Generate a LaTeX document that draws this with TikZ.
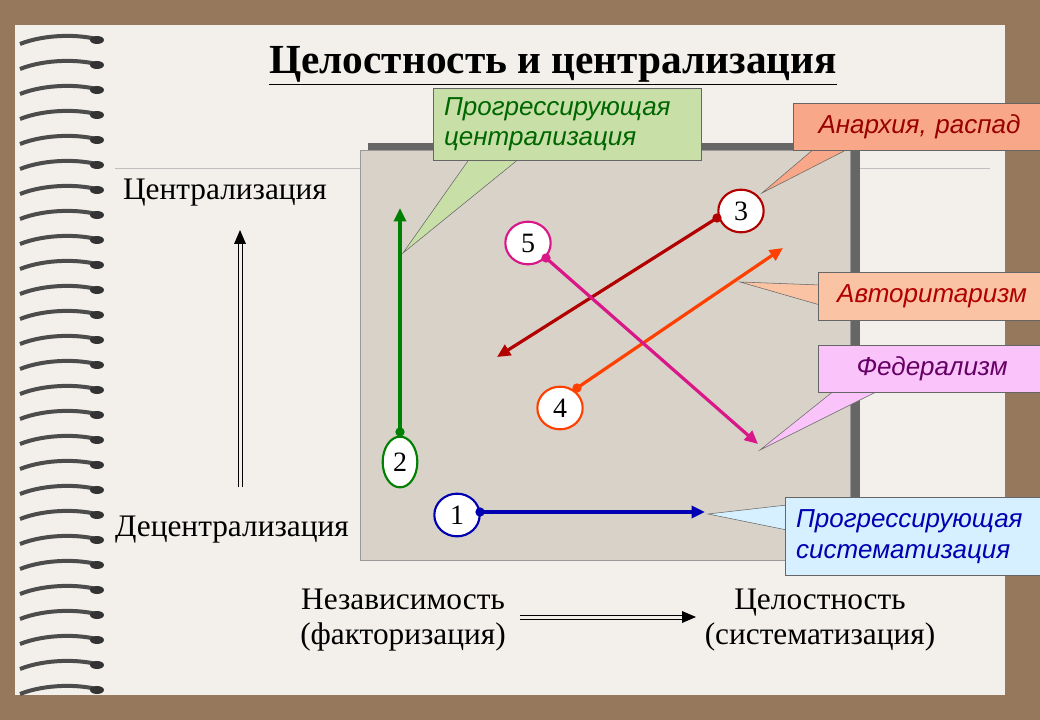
\documentclass[tikz,border=0pt]{standalone}
\usepackage{fontspec}
\setmainfont{Liberation Serif}
\newfontfamily\sansf{Liberation Sans}
\usetikzlibrary{arrows.meta,shapes.geometric}
\begin{document}
\begin{tikzpicture}[x=0.75pt,y=-0.75pt,
  num/.style={ellipse,draw,line width=1.6pt,fill=white,minimum width=34pt,minimum height=32pt,inner sep=0pt,font=\fontsize{21}{22}\selectfont},
  lbl/.style={font=\fontsize{23.5}{26}\selectfont,align=center},
  call/.style={draw=black!60,line width=0.6pt,font=\sansf\itshape\fontsize{19.5}{23}\selectfont,inner xsep=8pt,inner ysep=4pt},
  dotc/.style={circle,fill,inner sep=0pt,minimum size=7pt},
  arr/.style={line width=2.4pt,-{Triangle[length=10pt,width=9pt]}},
  dbl/.style={line width=0.6pt},
  dblhead/.style={fill=black}]
\useasboundingbox (0,0) rectangle (1040,720);
\fill[brown!60!black!75!white] (0,0) rectangle (1040,720);
\fill[color={rgb,255:red,243;green,240;blue,235}] (15,25) rectangle (1005,695);
% spiral rings
\foreach \y in {40,65,...,690}{
  \draw[line width=3pt,color=black!70] (20,\y+4) .. controls (45,\y-6) and (80,\y-6) .. (100,\y);
  \fill[black!80] (97,\y) ellipse (7 and 4);
}
\draw[black!25,line width=0.6pt] (115,168) -- (990,168);
% title
\node[font=\bfseries\fontsize{31}{34}\selectfont] (title) at (553,66) {\underline{Целостность и централизация}};
% field
\fill[black!60] (368,143) rectangle (860,553);
\fill[color={rgb,255:red,216;green,210;blue,200}] (360,150) rectangle (850,560);
\draw[black!40] (360,150) rectangle (850,560);
% axes
\node[lbl] (cen) at (225,193) {Централизация};
\node[lbl] (dec) at (232,530) {Децентрализация};
\draw[dbl] (238,487) -- (238,242) (242,487) -- (242,242);
\fill (234,244) -- (240,230) -- (246,244) -- cycle;
\node[lbl] (ind) at (403,620) {Независимость\\(факторизация)};
\node[lbl] (int) at (820,620) {Целостность\\(систематизация)};
\draw[dbl] (520,615) -- (684,615) (520,619) -- (684,619);
\fill (682,611) -- (696,617) -- (682,623) -- cycle;
% callout wedges
\fill[color={rgb,255:red,200;green,224;blue,168},draw=black!60] (470,158) -- (403,253) -- (520,158) -- cycle;
\fill[color={rgb,255:red,248;green,168;blue,136},draw=black!60] (815,148) -- (762,193) -- (850,148) -- cycle;
\fill[color={rgb,255:red,250;green,196;blue,164},draw=black!60] (820,285) -- (740,282) -- (820,305) -- cycle;
\fill[color={rgb,255:red,250;green,196;blue,250},draw=black!60] (835,390) -- (760,450) -- (880,390) -- cycle;
\fill[color={rgb,255:red,214;green,240;blue,255},draw=black!60] (787,505) -- (708,514) -- (787,530) -- cycle;
% callout boxes
\node[call,fill={rgb,255:red,200;green,224;blue,168},anchor=north west,text width=247*0.75pt,minimum height=72*0.75pt,text=green!40!black,align=left] (cg) at (433,88) {Прогрессирующая\\централизация};
\node[call,fill={rgb,255:red,248;green,168;blue,136},anchor=north west,text width=231*0.75pt,minimum height=47*0.75pt,text=red!60!black,align=center] (ca) at (793,103) {Анархия, распад};
\node[call,fill={rgb,255:red,250;green,196;blue,164},anchor=north west,text width=206*0.75pt,minimum height=48*0.75pt,text=red!70!black,align=center] (cb) at (818,272) {Авторитаризм};
\node[call,fill={rgb,255:red,250;green,196;blue,250},anchor=north west,text width=206*0.75pt,minimum height=47*0.75pt,text=violet!80!black,align=center] (cf) at (818,345) {Федерализм};
\node[call,fill={rgb,255:red,214;green,240;blue,255},anchor=north west,text width=239*0.75pt,minimum height=78*0.75pt,text=blue!70!black,align=left] (cs) at (785,497) {Прогрессирующая\\систематизация};
% arrows
\coordinate (e1) at (705,512);
\coordinate (e2) at (400,208);
\coordinate (e3) at (497,357);
\coordinate (e4) at (783,248);
\coordinate (e5) at (758,444);
\node[num,draw=blue!70!black] (n1) at (457,515) {1};
\node[num,draw=green!50!black,minimum width=26pt,minimum height=38pt] (n2) at (400,462) {2};
\node[num,draw=red!70!black] (n3) at (741,211) {3};
\node[num,draw=orange!50!red] (n4) at (560,408) {4};
\node[num,draw=magenta!80!violet] (n5) at (528,243) {5};
\node[dotc,blue!70!black] (d1) at (480,512) {};
\node[dotc,green!50!black] (d2) at (400,432) {};
\node[dotc,red!70!black] (d3) at (717,218) {};
\node[dotc,orange!50!red] (d4) at (577,388) {};
\node[dotc,magenta!80!violet] (d5) at (546,258) {};
\draw[arr,blue!70!black] (d1.center) -- (e1);
\draw[arr,green!50!black] (d2.center) -- (e2);
\draw[arr,red!70!black] (d3.center) -- (e3);
\draw[arr,orange!50!red] (d4.center) -- (e4);
\draw[arr,magenta!80!violet] (d5.center) -- (e5);
\end{tikzpicture}
\end{document}
